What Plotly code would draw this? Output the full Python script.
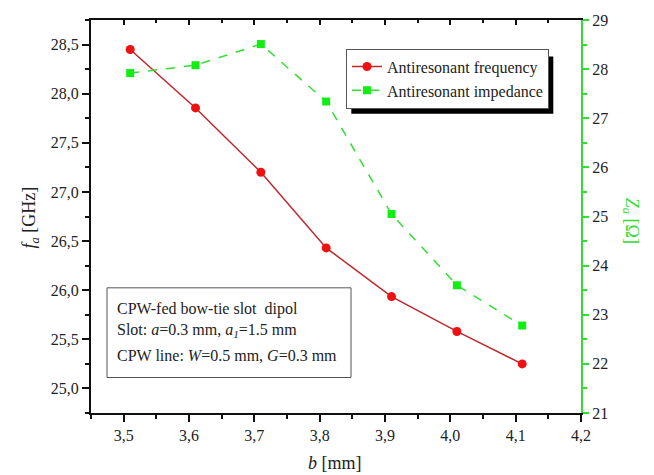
import plotly.graph_objects as go

b_mm = [3.51, 3.61, 3.71, 3.81, 3.91, 4.01, 4.11]
freq_ghz = [28.45, 27.855, 27.20, 26.43, 25.935, 25.58, 25.25]
imp_ohm = [27.92, 28.08, 28.51, 27.34, 25.05, 23.60, 22.78]

FONT = "Liberation Serif, Times New Roman, serif"

# plot area in pixels
L, R, T, B = 90.7, 580.7, 14.0, 412.7
W, H = R - L, B - T
def px(x):
    return (x - L) / W
def py(y):
    return (B - y) / H

fig = go.Figure()
fig.add_trace(go.Scatter(
    x=b_mm, y=freq_ghz, name="Antiresonant frequency", mode="lines+markers",
    line=dict(color="#c0272d", width=1.5),
    marker=dict(color="#ee1111", size=9, symbol="circle"),
    yaxis="y", xaxis="x"))
fig.add_trace(go.Scatter(
    x=b_mm, y=imp_ohm, name="Antiresonant impedance", mode="lines+markers",
    line=dict(color="#33dd33", width=1.5, dash="dash"),
    marker=dict(color="#11ee11", size=8, symbol="square"),
    yaxis="y2", xaxis="x"))
# invisible trace to draw the top axis with inward ticks
fig.add_trace(go.Scatter(x=[3.45], y=[26], xaxis="x2", yaxis="y", mode="markers",
                         marker=dict(opacity=0), showlegend=False, hoverinfo="skip"))

tickfont = dict(family=FONT, size=16, color="#222222")
fig.update_layout(
    width=654, height=475,
    margin=dict(l=L, r=654 - R, t=T, b=475 - B),
    paper_bgcolor="white", plot_bgcolor="white",
    separators=", ",
    font=dict(family=FONT, size=16, color="#222222"),
    xaxis=dict(range=[3.45, 4.2], tick0=3.5, dtick=0.1, tickformat=".1f",
               ticks="outside", ticklen=7, tickwidth=1.5, tickcolor="#111",
               showline=True, linecolor="#111", linewidth=2, showgrid=False, zeroline=False,
               tickfont=tickfont,
               minor=dict(ticks="outside", dtick=0.05, tick0=3.45, ticklen=4, tickcolor="#111", tickwidth=1.5, showgrid=False)),
    xaxis2=dict(range=[3.45, 4.2], overlaying="x", side="top", anchor="y",
                tick0=3.5, dtick=0.1, ticks="inside", ticklen=5, tickwidth=1.5, tickcolor="#111",
                showticklabels=False, showline=True, linecolor="#111", linewidth=2,
                showgrid=False, zeroline=False,
                minor=dict(ticks="inside", dtick=0.05, tick0=3.45, ticklen=3, tickcolor="#111", tickwidth=1.5, showgrid=False)),
    yaxis=dict(range=[24.75, 28.75], tick0=25, dtick=0.5, tickformat=".1f",
               ticks="outside", ticklen=7, tickwidth=1.5, tickcolor="#111",
               showline=True, linecolor="#111", linewidth=2, showgrid=False, zeroline=False,
               tickfont=tickfont,
               minor=dict(ticks="outside", dtick=0.25, tick0=24.75, ticklen=4, tickcolor="#111", tickwidth=1.5, showgrid=False)),
    yaxis2=dict(range=[21, 29], overlaying="y", side="right", anchor="x",
                tick0=21, dtick=1, tickformat="d",
                ticks="outside", ticklen=6, tickwidth=1.5, tickcolor="#33dd33",
                showline=True, linecolor="#33dd33", linewidth=2, showgrid=False, zeroline=False,
                tickfont=tickfont,
                minor=dict(ticks="outside", dtick=0.5, tick0=21, ticklen=4, tickcolor="#33dd33", tickwidth=1.5, showgrid=False)),
    legend=dict(x=px(345.7), y=py(43), xanchor="left", yanchor="top",
                bgcolor="white", bordercolor="#555", borderwidth=1,
                font=dict(family=FONT, size=16, color="#222222"),
                tracegroupgap=0, itemwidth=30),
    showlegend=True,
)

shapes = [
    # legend shadow
    dict(type="rect", xref="paper", yref="paper",
         x0=px(351), x1=px(553), y0=py(109), y1=py(51),
         fillcolor="black", line=dict(width=0), layer="above"),
    # info box
    dict(type="rect", xref="paper", yref="paper",
         x0=px(106.7), x1=px(350.7), y0=py(376.7), y1=py(285.7),
         fillcolor="white", line=dict(color="#555", width=1), layer="above"),
]
fig.update_layout(shapes=shapes)

lines = [
    ("CPW-fed bow-tie slot  dipol", 307),
    ("Slot: <i>a</i>=0.3 mm, <i>a</i><sub><i>1</i></sub>=1.5 mm", 329),
    ("CPW line: <i>W</i>=0.5 mm, <i>G</i>=0.3 mm", 354),
]
for txt, yy in lines:
    fig.add_annotation(text=txt, xref="paper", yref="paper", x=px(114.5), y=py(yy),
                       xanchor="left", yanchor="middle", showarrow=False,
                       font=dict(family=FONT, size=16, color="#222222"))

# axis titles
fig.add_annotation(text="<i>b</i> [mm]", xref="paper", yref="paper", x=px(335), y=py(463),
                   xanchor="center", yanchor="middle", showarrow=False,
                   font=dict(family=FONT, size=18, color="#222222"))
fig.add_annotation(text="<i>f</i><sub><i>a</i></sub> [GHz]", xref="paper", yref="paper",
                   x=px(30), y=py(214), xanchor="center", yanchor="middle", showarrow=False,
                   textangle=-90, font=dict(family=FONT, size=18, color="#222222"))
fig.add_annotation(text="<i>Z</i><sub><i>a</i></sub> [Ω]", xref="paper", yref="paper",
                   x=px(631), y=py(218), xanchor="center", yanchor="middle", showarrow=False,
                   textangle=90, font=dict(family=FONT, size=18, color="#33dd33"))

fig.write_html("out.html", config={"displayModeBar": False},
               post_script="document.body.style.margin='0px';")
